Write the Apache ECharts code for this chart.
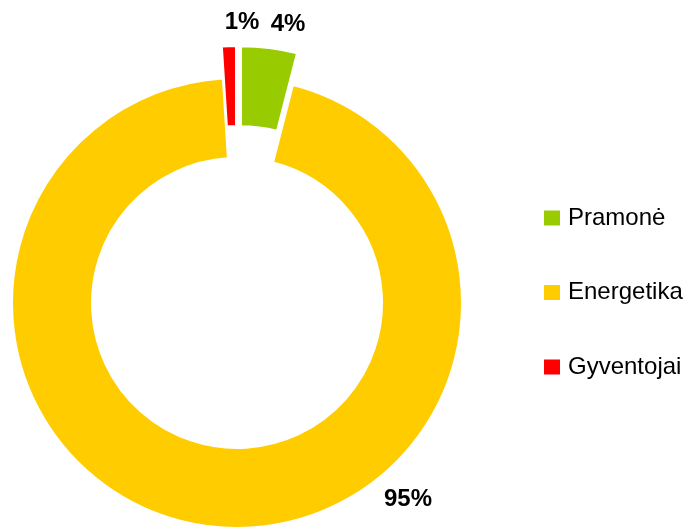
<!DOCTYPE html>
<html>
<head>
<meta charset="utf-8">
<script src="https://cdn.jsdelivr.net/npm/echarts@6/dist/echarts.min.js"></script>
<style>
  html, body { margin: 0; padding: 0; background: #ffffff; }
  #chart { width: 689px; height: 529px; }
</style>
</head>
<body>
<div id="chart"></div>
<script>
// Sector shares (percent)
const categories = ['Pramonė', 'Energetika', 'Gyventojai'];
const shares = [4, 95, 1];
const colors = ['#99CC00', '#FFCC00', '#FF0000'];
// Slices pulled out of the ring
const pulledOut = [true, false, true];
// Where each percentage label sits
const labelSpots = [[288, 24], [408, 499], [242, 22]];

const labelFont = {
  fontFamily: 'Liberation Sans, Arial, sans-serif',
  fontSize: 24,
  fontWeight: 'bold',
  fill: '#000000'
};

const chart = echarts.init(document.getElementById('chart'), null, { renderer: 'canvas' });

chart.setOption({
  animation: false,
  backgroundColor: '#ffffff',
  legend: {
    orient: 'vertical',
    left: 544,
    top: 206,
    padding: 0,
    itemWidth: 16,
    itemHeight: 15,
    itemGap: 50.5,
    icon: 'rect',
    selectedMode: false,
    itemStyle: { borderWidth: 0 },
    textStyle: {
      fontFamily: 'Liberation Sans, Arial, sans-serif',
      fontSize: 24,
      color: '#000000',
      padding: [0, 0, 0, 3]
    },
    data: categories
  },
  // Percentage labels, text taken from the shares
  graphic: shares.map((v, i) => ({
    type: 'text',
    x: labelSpots[i][0],
    y: labelSpots[i][1],
    style: Object.assign({
      text: v + '%',
      align: 'center',
      verticalAlign: 'middle'
    }, labelFont)
  })),
  series: [{
    type: 'pie',
    center: [237, 303],
    radius: [145, 225],
    startAngle: 90,
    clockwise: true,
    selectedMode: 'multiple',
    selectedOffset: 32,
    emphasis: { disabled: true },
    itemStyle: { borderColor: '#ffffff', borderWidth: 2 },
    label: { show: false },
    labelLine: { show: false },
    data: categories.map((name, i) => ({
      name: name,
      value: shares[i],
      selected: pulledOut[i],
      itemStyle: { color: colors[i] }
    }))
  }]
});
</script>
</body>
</html>
